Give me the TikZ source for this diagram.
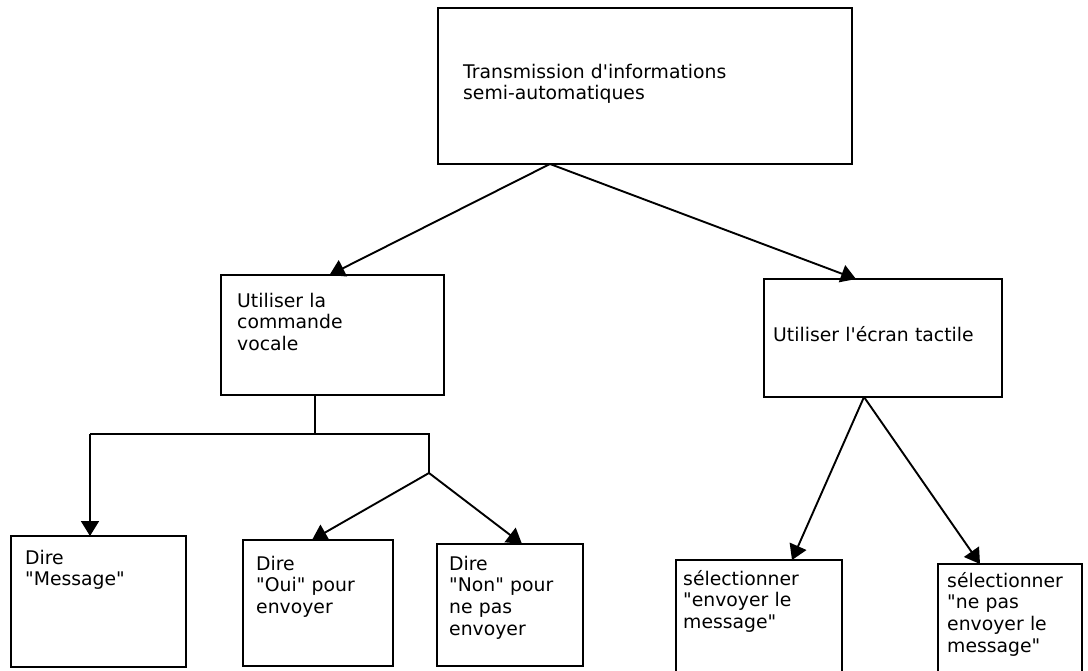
\documentclass[tikz,border=0pt]{standalone}
\usepackage{fontspec}
\setmainfont{DejaVu Sans}
\usetikzlibrary{arrows.meta}
\newcommand{\dq}{\textquotedbl}
\newcommand{\sq}{\textquotesingle}
\begin{document}
\begin{tikzpicture}[x=1pt, y=-1pt, line join=miter,
        box/.style={draw, line width=2.3pt, inner sep=0pt, outer sep=0pt, anchor=north west},
        txt/.style={anchor=base west, align=left, inner sep=0pt, text width=#1, font=\fontsize{18.8}{21.8}\selectfont},
        arr/.style={line width=1.9pt, -{Triangle[length=15pt, width=18pt]}},
        link/.style={line width=1.9pt}]
        \useasboundingbox (0, 0) rectangle (1088, 670);
        \clip (0, 0) rectangle (1088, 670);

        \node[box, minimum width=414, minimum height=156] (transm) at (438, 8) {};
        \node[box, minimum width=223, minimum height=120] (vocale) at (221, 275) {};
        \node[box, minimum width=238, minimum height=118] (tactile) at (764, 279) {};
        \node[box, minimum width=175, minimum height=131] (message) at (11, 536) {};
        \node[box, minimum width=150, minimum height=126] (oui) at (243, 540) {};
        \node[box, minimum width=146, minimum height=122] (non) at (437, 544) {};
        \node[box, minimum width=166, minimum height=130] (envoyer) at (676, 560) {};
        \node[box, minimum width=144, minimum height=130] (nepas) at (938, 564) {};

        \node[txt=300pt] (transm-t) at (463, 78) {Transmission d\sq informations\\semi-automatiques};
        \node[txt=200pt] (vocale-t) at (237, 307) {Utiliser la\\commande\\vocale};
        \node[txt=220pt] (tactile-t) at (773, 341) {Utiliser l\sq écran tactile};
        \node[txt=150pt] (message-t) at (25, 564) {Dire\\\dq Message\dq};
        \node[txt=130pt] (oui-t) at (256, 570) {Dire\\\dq Oui\dq{} pour\\envoyer};
        \node[txt=130pt] (non-t) at (449, 570) {Dire\\\dq Non\dq{} pour\\ne pas\\envoyer};
        \node[txt=150pt] (envoyer-t) at (683, 585) {sélectionner\\\dq envoyer le\\message\dq};
        \node[txt=130pt] (nepas-t) at (947, 587) {sélectionner\\\dq ne pas\\envoyer le\\message\dq};

        \coordinate (fork) at (315, 434);
        \coordinate (forkl) at (90, 434);
        \coordinate (forkr) at (429, 434);
        \coordinate (split) at (429, 473);

        \draw[arr] ([xshift=-95]transm.south) -- ([xshift=-3]vocale.north);
        \draw[arr] ([xshift=-95]transm.south) -- ([xshift=-27]tactile.north);

        \draw[link] ([xshift=-17.5]vocale.south) -- (fork);
        \draw[link] (forkl) -- (forkr) -- (split);
        \draw[arr] (forkl) -- ([xshift=-8.5]message.north);
        \draw[arr] (split) -- ([xshift=-6]oui.north);
        \draw[arr] (split) -- ([xshift=12]non.north);

        \draw[arr] ([xshift=-19]tactile.south) -- ([xshift=33]envoyer.north);
        \draw[arr] ([xshift=-19]tactile.south) -- ([xshift=-30]nepas.north);
    \end{tikzpicture}
\end{document}
